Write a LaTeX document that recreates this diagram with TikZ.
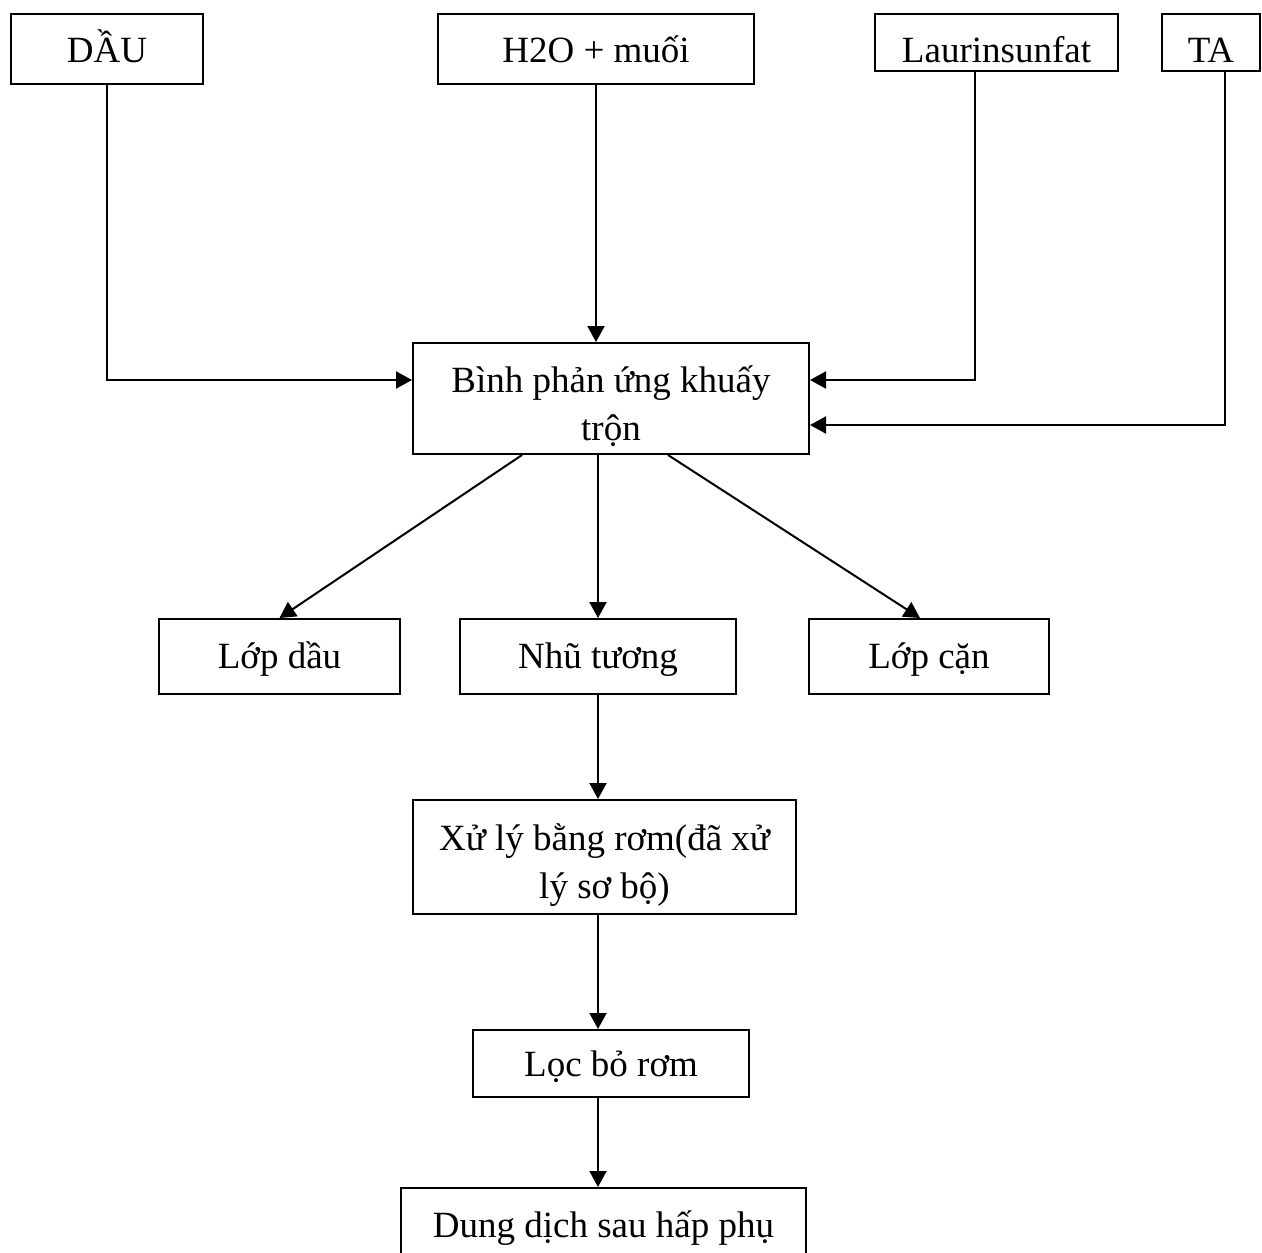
\documentclass[tikz,border=0pt]{standalone}
\usepackage{fontspec}
\setmainfont{Liberation Serif}
\usetikzlibrary{arrows.meta}

\begin{document}
\begin{tikzpicture}[x = 0.5pt, y = -0.5pt]
	\tikzstyle{boxStyle} = [draw, line width = 1pt, rectangle, inner sep = 0pt, text height = 24.5pt, align = center, font = \fontsize{18.5}{24}\selectfont]
	\tikzstyle{twoLineStyle} = [draw, line width = 1pt, rectangle, inner sep = 0pt, align = center, font = \fontsize{18.5}{24}\selectfont]
	\tikzstyle{arrowStyle} = [line width = 1pt, -{Triangle[length = 8pt, width = 8.5pt]}]
	\useasboundingbox (0, 0) rectangle (1262, 1252);
	\clip (0, 0) rectangle (1262, 1252);
	\node[boxStyle, minimum width = 96pt, text depth = 10.5pt] (dau) at (107, 49) {DẦU};
	\node[boxStyle, minimum width = 158pt, text depth = 10.5pt] (h2o) at (596, 49) {H2O + muối};
	\node[boxStyle, minimum width = 121.5pt, text depth = 4pt] (laurin) at (996.5, 42.5) {Laurinsunfat};
	\node[boxStyle, minimum width = 49pt, text depth = 4pt] (ta) at (1211, 42.5) {TA};
	\node[twoLineStyle, minimum width = 198pt, minimum height = 55.5pt] (bin) at (611, 398.5) {\rule{0pt}{23.5pt}Bình phản ứng khuấy\\trộn\rule[-6pt]{0pt}{6pt}};
	\node[boxStyle, minimum width = 120.5pt, text depth = 13pt] (lopdau) at (279.5, 656.5) {Lớp dầu};
	\node[boxStyle, minimum width = 138pt, text depth = 13pt] (nhu) at (598, 656.5) {Nhũ tương};
	\node[boxStyle, minimum width = 120pt, text depth = 13pt] (lopcan) at (929, 656.5) {Lớp cặn};
	\node[twoLineStyle, minimum width = 191.5pt, minimum height = 57pt] (xuly) at (604.5, 857) {\rule{0pt}{23.5pt}Xử lý bằng rơm(đã xử\\lý sơ bộ)\rule[-6pt]{0pt}{6pt}};
	\node[boxStyle, minimum width = 138pt, text height = 23pt, text depth = 10.5pt] (loc) at (611, 1063.5) {Lọc bỏ rơm};
	\node[boxStyle, minimum width = 202.5pt, text depth = 15.5pt] (dung) at (603.5, 1228) {Dung dịch sau hấp phụ};
	\draw[arrowStyle] (dau.south) |- ([yshift = 9.25pt]bin.west);
	\draw[arrowStyle] (h2o.south) -- (h2o.south |- bin.north);
	\draw[arrowStyle] ([xshift = -10.75pt]laurin.south) |- ([yshift = 9.25pt]bin.east);
	\draw[arrowStyle] ([xshift = 7pt]ta.south) |- ([yshift = -13.25pt]bin.east);
	\draw[arrowStyle] ([xshift = -44.5pt]bin.south) -- (lopdau.north);
	\draw[arrowStyle] (nhu.north |- bin.south) -- (nhu.north);
	\draw[arrowStyle] ([xshift = 28.5pt]bin.south) -- ([xshift = -4.5pt]lopcan.north);
	\draw[arrowStyle] (nhu.south) -- (nhu.south |- xuly.north);
	\draw[arrowStyle] (nhu.south |- xuly.south) -- (nhu.south |- loc.north);
	\draw[arrowStyle] (nhu.south |- loc.south) -- (nhu.south |- dung.north);
\end{tikzpicture}
\end{document}
